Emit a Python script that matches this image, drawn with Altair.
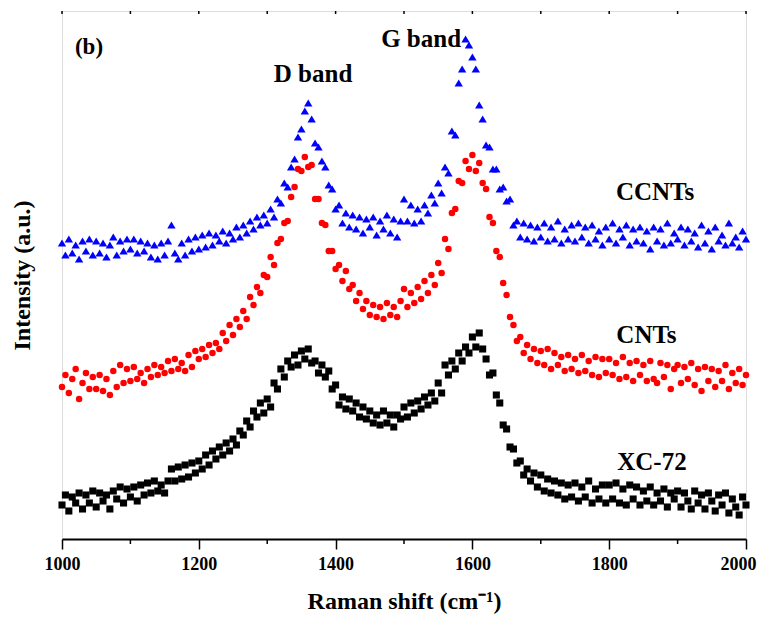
import altair as alt
import pandas as pd

# Raman shift grid (cm^-1), sampled every 5 cm^-1
shift = list(range(1000, 2001, 5))

# Intensities (a.u.) (offset traces)
xc72 = [
    34, 44, 28, 42, 36, 46, 30, 44, 36, 48,
    32, 46, 38, 44, 30, 48, 40, 52, 36, 50,
    42, 52, 38, 54, 44, 56, 46, 58, 48, 54,
    46, 58, 70, 58, 72, 60, 74, 62, 76, 66,
    78, 70, 84, 74, 88, 80, 92, 84, 96, 88,
    100, 94, 108, 104, 118, 112, 128, 122, 136, 126,
    140, 132, 156, 150, 170, 162, 178, 172, 184, 174,
    188, 180, 190, 176, 178, 166, 174, 162, 168, 150,
    154, 134, 142, 130, 140, 128, 136, 122, 132, 120,
    128, 116, 124, 114, 128, 116, 124, 112, 124, 120,
    132, 122, 136, 126, 138, 130, 142, 134, 146, 138,
    156, 146, 174, 164, 178, 170, 186, 178, 192, 186,
    202, 192, 206, 190, 180, 164, 166, 144, 136, 114,
    110, 92, 90, 76, 78, 64, 70, 58, 66, 52,
    64, 48, 60, 46, 58, 44, 56, 40, 54, 42,
    56, 38, 52, 42, 58, 36, 50, 40, 54, 36,
    54, 40, 56, 36, 50, 34, 54, 40, 52, 34,
    48, 38, 52, 34, 46, 38, 50, 32, 46, 40,
    48, 32, 46, 38, 30, 48, 36, 44, 30, 46,
    38, 28, 44, 34, 46, 26, 40, 32, 24, 42,
    34,
]

cnts = [
    152, 164, 146, 160, 170, 140, 156, 166, 150, 162,
    150, 164, 148, 160, 144, 168, 152, 174, 156, 170,
    158, 172, 160, 166, 156, 170, 162, 174, 164, 172,
    166, 178, 168, 180, 170, 176, 168, 184, 172, 188,
    180, 190, 182, 194, 186, 196, 190, 206, 198, 214,
    204, 220, 212, 228, 220, 242, 234, 252, 246, 264,
    262, 282, 274, 296, 300, 316, 318, 342, 352, 370,
    368, 382, 372, 374, 340, 340, 316, 314, 288, 288,
    270, 274, 258, 268, 250, 254, 238, 246, 230, 238,
    224, 234, 222, 232, 220, 236, 224, 232, 222, 238,
    250, 232, 246, 236, 252, 240, 258, 246, 264, 254,
    276, 266, 300, 290, 326, 330, 358, 356, 378, 370,
    384, 368, 376, 356, 350, 322, 316, 288, 282, 256,
    244, 222, 214, 198, 202, 186, 194, 180, 190, 176,
    188, 174, 190, 170, 186, 174, 182, 168, 184, 170,
    180, 166, 184, 168, 178, 164, 182, 162, 180, 166,
    180, 164, 176, 160, 182, 162, 176, 158, 178, 164,
    174, 158, 178, 160, 156, 176, 162, 174, 150, 170,
    174, 156, 172, 160, 176, 154, 170, 148, 172, 158,
    170, 152, 168, 158, 174, 150, 166, 156, 170, 154,
    164,
]

ccnts = [
    296, 284, 300, 286, 294, 280, 298, 288, 300, 284,
    298, 286, 296, 282, 294, 302, 284, 298, 288, 300,
    290, 300, 286, 298, 288, 296, 282, 294, 280, 296,
    284, 298, 314, 286, 280, 296, 284, 300, 288, 302,
    290, 304, 292, 306, 294, 304, 298, 308, 296, 306,
    300, 312, 302, 314, 306, 318, 310, 322, 314, 324,
    316, 330, 322, 340, 336, 356, 352, 372, 380, 402,
    410, 428, 436, 420, 396, 392, 378, 372, 354, 350,
    330, 334, 316, 326, 312, 324, 310, 322, 306, 320,
    312, 322, 304, 318, 310, 324, 306, 320, 302, 318,
    340, 318, 334, 316, 330, 318, 334, 326, 344, 336,
    356, 346, 372, 366, 408, 404, 456, 470, 500, 494,
    482, 470, 434, 420, 394, 392, 370, 370, 350, 352,
    338, 340, 314, 318, 302, 316, 300, 314, 298, 312,
    302, 316, 298, 312, 300, 318, 296, 310, 300, 314,
    298, 316, 302, 312, 296, 314, 300, 308, 294, 312,
    300, 316, 296, 310, 302, 314, 294, 310, 298, 312,
    296, 308, 290, 312, 298, 310, 294, 316, 296, 306,
    300, 312, 294, 310, 298, 306, 292, 314, 296, 308,
    290, 312, 298, 304, 294, 316, 296, 302, 292, 308,
    300,
]

major_ticks = [1000, 1200, 1400, 1600, 1800, 2000]
minor_ticks = [1100, 1300, 1500, 1700, 1900]
top_ticks = list(range(1000, 2001, 100))

ann_text = ["(b)", "D band", "G band", "CCNTs", "CNTs", "XC-72"]
ann_x = [1039.5, 1367, 1525, 1867, 1854.5, 1862.5]
ann_y = [485, 457, 492, 339, 196, 69]
ann_size = [23, 25, 25, 25, 25, 25]

FONT = "Liberation Serif"
W, H = 684, 528

xscale = alt.Scale(domain=[1000, 2000], nice=False, zero=False)
yscale = alt.Scale(domain=[0, 528], nice=False, zero=False)

df_black = pd.DataFrame({"x": shift, "y": xc72})
df_red = pd.DataFrame({"x": shift, "y": cnts})
df_blue = pd.DataFrame({"x": shift, "y": ccnts})

xaxis = alt.Axis(
    values=major_ticks, format="d", title="Raman shift (cm⁻¹)", labelFlush=False,
    labelFont=FONT, labelFontWeight="bold", labelFontSize=18, labelColor="black",
    labelOffset={"condition": {"test": "datum.value === 2000", "value": -8}, "value": 0},
    titleFont=FONT, titleFontWeight="bold", titleFontSize=24, titleColor="black",
    tickSize=10, tickWidth=1.5, tickColor="black", labelPadding=6,
    domainColor="black", domainWidth=2, grid=False, titlePadding=16,
)
yaxis = alt.Axis(
    labels=False, ticks=False, domain=False, grid=False,
    title="Intensity (a.u.)", titleFont=FONT, titleFontWeight="bold",
    titleFontSize=24, titleColor="black", titlePadding=28,
)

def pts(df, shape, size, color):
    return alt.Chart(df).mark_point(shape=shape, size=size, color=color, filled=True, opacity=1).encode(
        x=alt.X("x:Q", scale=xscale, axis=xaxis),
        y=alt.Y("y:Q", scale=yscale, axis=yaxis),
    )

blue = pts(df_blue, "triangle-up", 70, "#0000FF")
red = pts(df_red, "circle", 42, "#FF0000")
black = pts(df_black, "square", 50, "#000000")

minor = alt.Chart(pd.DataFrame({"t": minor_ticks})).mark_rule(color="black", strokeWidth=1.5, clip=False).encode(
    x=alt.X("t:Q", scale=xscale), y=alt.value(H), y2=alt.value(H + 5)
)
top = alt.Chart(pd.DataFrame({"t": top_ticks})).mark_rule(color="black", strokeWidth=1.5).encode(
    x=alt.X("t:Q", scale=xscale), y=alt.value(0), y2=alt.value(3)
)

ann = alt.Chart(pd.DataFrame({"t": ann_text, "x": ann_x, "y": ann_y, "s": ann_size})).mark_text(
    font=FONT, fontWeight="bold", color="black", align="center", baseline="alphabetic"
).encode(
    x=alt.X("x:Q", scale=xscale), y=alt.Y("y:Q", scale=yscale),
    text="t:N", size=alt.Size("s:Q", scale=None),
)

chart = alt.layer(blue, red, black, minor, top, ann).properties(
    width=W, height=H,
    autosize=alt.AutoSizeParams(type="none"),
    padding={"left": 54, "top": 3, "right": 12, "bottom": 77},
).configure_view(stroke="black", strokeWidth=2).configure(background="white")

chart.save("out.html", embed_options={"renderer": "svg", "actions": False})
